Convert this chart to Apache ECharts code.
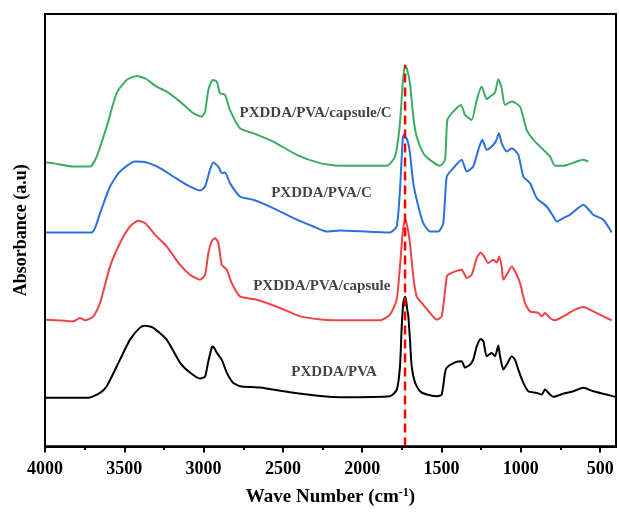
<!DOCTYPE html>
<html>
<head>
<meta charset="utf-8">
<script src="https://cdn.jsdelivr.net/npm/echarts@6/dist/echarts.min.js"></script>
<style>
  html, body { margin: 0; padding: 0; background: #fff; }
  #chart { width: 619px; height: 512px; }
</style>
</head>
<body>
<div id="chart"></div>
<script>
// FTIR spectra, stacked with vertical offsets (absorbance in arbitrary units)
const pvaWave = [4000, 3729, 3653, 3611, 3527, 3464, 3401, 3370, 3319, 3233, 3149, 3086, 3023, 2991, 2972, 2949, 2941, 2917, 2886, 2854, 2815, 2771, 2644, 2455, 2247, 2140, 1825, 1782, 1762, 1751, 1741, 1730, 1724, 1716, 1709, 1699, 1688, 1667, 1636, 1593, 1530, 1499, 1478, 1467, 1415, 1373, 1352, 1320, 1300, 1278, 1253, 1236, 1215, 1184, 1163, 1142, 1131, 1110, 1089, 1057, 1037, 1016, 984, 953, 900, 868, 848, 816, 795, 732, 669, 606, 543, 459, 406];
const pvaAbs = [0.487, 0.487, 0.537, 0.603, 0.87, 1.07, 1.19, 1.21, 1.19, 1.07, 0.84, 0.74, 0.68, 0.70, 0.84, 0.99, 1.00, 0.94, 0.87, 0.74, 0.64, 0.603, 0.59, 0.543, 0.503, 0.493, 0.503, 0.57, 0.80, 1.20, 1.44, 1.50, 1.47, 1.37, 1.30, 1.07, 0.80, 0.64, 0.553, 0.52, 0.503, 0.52, 0.74, 0.79, 0.843, 0.853, 0.79, 0.82, 0.87, 1.003, 1.077, 1.053, 0.903, 0.937, 0.903, 1.01, 0.903, 0.77, 0.82, 0.903, 0.87, 0.77, 0.637, 0.553, 0.537, 0.52, 0.57, 0.52, 0.497, 0.53, 0.553, 0.587, 0.553, 0.52, 0.497];

const capsuleWave = [4000, 3989, 3822, 3779, 3748, 3695, 3653, 3590, 3527, 3464, 3412, 3370, 3296, 3233, 3149, 3086, 3023, 2991, 2970, 2949, 2928, 2907, 2886, 2854, 2823, 2771, 2665, 2518, 2392, 2245, 2140, 1888, 1825, 1783, 1762, 1745, 1730, 1716, 1699, 1678, 1657, 1625, 1573, 1530, 1499, 1467, 1457, 1415, 1373, 1341, 1310, 1278, 1253, 1232, 1205, 1174, 1152, 1136, 1121, 1110, 1089, 1057, 1037, 1005, 974, 942, 890, 868, 848, 816, 784, 732, 658, 606, 543, 480, 427];
const capsuleAbs = [1.27, 1.27, 1.253, 1.287, 1.263, 1.303, 1.437, 1.803, 2.037, 2.203, 2.26, 2.237, 2.103, 2.003, 1.82, 1.72, 1.67, 1.72, 1.937, 2.053, 2.087, 2.037, 1.82, 1.77, 1.637, 1.503, 1.47, 1.387, 1.303, 1.27, 1.263, 1.263, 1.32, 1.47, 1.803, 2.137, 2.27, 2.203, 2.037, 1.703, 1.503, 1.437, 1.337, 1.27, 1.303, 1.703, 1.72, 1.753, 1.77, 1.687, 1.72, 1.887, 1.943, 1.903, 1.837, 1.87, 1.843, 1.903, 1.803, 1.67, 1.72, 1.803, 1.753, 1.637, 1.437, 1.353, 1.337, 1.303, 1.337, 1.287, 1.263, 1.303, 1.37, 1.397, 1.353, 1.303, 1.263];

const cWave = [4000, 3706, 3653, 3590, 3527, 3433, 3359, 3275, 3191, 3107, 3023, 2991, 2960, 2939, 2907, 2886, 2865, 2834, 2771, 2687, 2561, 2434, 2308, 2224, 2140, 1825, 1783, 1762, 1745, 1737, 1716, 1699, 1678, 1646, 1615, 1573, 1520, 1489, 1467, 1426, 1373, 1341, 1300, 1268, 1243, 1215, 1184, 1158, 1138, 1121, 1089, 1057, 1016, 984, 942, 900, 837, 795, 774, 732, 690, 606, 543, 480, 427];
const cAbs = [2.143, 2.143, 2.337, 2.603, 2.753, 2.853, 2.843, 2.787, 2.703, 2.62, 2.563, 2.603, 2.77, 2.843, 2.803, 2.737, 2.743, 2.637, 2.503, 2.47, 2.387, 2.287, 2.203, 2.153, 2.163, 2.143, 2.203, 2.57, 3.07, 3.12, 3.07, 2.937, 2.637, 2.403, 2.237, 2.153, 2.153, 2.237, 2.703, 2.787, 2.87, 2.753, 2.803, 2.97, 3.07, 2.97, 3.003, 3.053, 3.137, 3.037, 2.953, 2.987, 2.92, 2.703, 2.637, 2.487, 2.403, 2.303, 2.253, 2.287, 2.32, 2.42, 2.32, 2.27, 2.143];

const capsuleCWave = [4000, 3989, 3822, 3716, 3674, 3611, 3548, 3485, 3422, 3390, 3359, 3296, 3233, 3149, 3065, 3012, 2991, 2970, 2943, 2917, 2897, 2865, 2834, 2771, 2687, 2561, 2413, 2266, 2140, 1846, 1793, 1762, 1745, 1730, 1716, 1699, 1678, 1657, 1615, 1573, 1510, 1478, 1463, 1426, 1377, 1352, 1310, 1278, 1247, 1215, 1194, 1163, 1142, 1121, 1100, 1057, 1005, 963, 920, 858, 816, 784, 732, 690, 648, 606, 575];
const capsuleCAbs = [2.843, 2.843, 2.803, 2.803, 2.903, 3.203, 3.537, 3.67, 3.71, 3.697, 3.677, 3.603, 3.553, 3.453, 3.337, 3.303, 3.353, 3.57, 3.67, 3.653, 3.537, 3.52, 3.37, 3.187, 3.137, 3.053, 2.92, 2.837, 2.81, 2.81, 2.903, 3.237, 3.637, 3.82, 3.77, 3.637, 3.303, 3.103, 2.937, 2.87, 2.81, 2.87, 3.27, 3.353, 3.42, 3.32, 3.27, 3.47, 3.603, 3.477, 3.503, 3.543, 3.677, 3.587, 3.42, 3.453, 3.403, 3.17, 3.07, 2.97, 2.903, 2.81, 2.81, 2.83, 2.853, 2.87, 2.853];

// C=O reference band
const carbonylWave = 1730;
const carbonylTop = 3.82;

// sample names and where each one is written
const sampleNames = ['PXDDA/PVA/capsule/C', 'PXDDA/PVA/C', 'PXDDA/PVA/capsule', 'PXDDA/PVA'];
const nameWave = [2294, 2257, 2255, 2177];
const nameAbs = [3.337, 2.537, 1.61, 0.747];

// axis ranges and ticks
const waveRange = [400, 4000];
const absRange = [0, 4.33];
const majorTicks = [4000, 3500, 3000, 2500, 2000, 1500, 1000, 500];
const minorTicks = [3750, 3250, 2750, 2250, 1750, 1250, 750];

const serif = "'Times New Roman', 'Liberation Serif', serif";
const zip = (xs, ys) => xs.map((x, i) => [x, ys[i]]);
const plotBox = { left: 45, right: 3, top: 14, bottom: 65 };

function spectrum(name, wave, abs, color) {
  return {
    name: name,
    type: 'line',
    data: zip(wave, abs),
    showSymbol: false,
    symbol: 'none',
    smooth: 0.2,
    lineStyle: { color: color, width: 2 },
    itemStyle: { color: color },
    animation: false,
    z: 3
  };
}

const chart = echarts.init(document.getElementById('chart'), null, { renderer: 'canvas' });

chart.setOption({
  backgroundColor: '#fff',
  animation: false,
  grid: [
    Object.assign({ show: true, borderColor: '#000', borderWidth: 2, backgroundColor: 'rgba(0,0,0,0)' }, plotBox),
    Object.assign({}, plotBox)
  ],
  xAxis: [
    {
      gridIndex: 0,
      type: 'value', min: waveRange[0], max: waveRange[1], inverse: true, position: 'bottom',
      axisLine: { show: true, onZero: false, lineStyle: { color: '#000', width: 2 } },
      splitLine: { show: false },
      axisTick: { show: true, inside: false, length: 6, customValues: majorTicks, lineStyle: { color: '#000', width: 2 } },
      axisLabel: {
        customValues: majorTicks, margin: 14,
        formatter: v => String(v),
        color: '#000', fontFamily: serif, fontWeight: 'bold', fontSize: 18
      },
      name: '{n|Wave Number (cm}{s|-1}{n|)}',
      nameLocation: 'middle', nameGap: 40,
      nameTextStyle: {
        rich: {
          n: { fontFamily: serif, fontWeight: 'bold', fontSize: 19, color: '#000' },
          s: { fontFamily: serif, fontWeight: 'bold', fontSize: 12, color: '#000', verticalAlign: 'top', padding: [0, 0, 10, 0] }
        }
      }
    },
    {
      gridIndex: 1,
      type: 'value', min: waveRange[0], max: waveRange[1], inverse: true, position: 'bottom',
      axisLine: { show: false, onZero: false },
      splitLine: { show: false },
      axisLabel: { show: false },
      axisTick: { show: true, inside: false, length: 3, customValues: minorTicks, lineStyle: { color: '#000', width: 2 } }
    }
  ],
  yAxis: [
    {
      gridIndex: 0,
      type: 'value', min: absRange[0], max: absRange[1], position: 'left',
      axisLine: { show: true, onZero: false, lineStyle: { color: '#000', width: 2 } },
      axisTick: { show: false },
      axisLabel: { show: false },
      splitLine: { show: false },
      name: 'Absorbance (a.u)',
      nameLocation: 'middle', nameGap: 15,
      nameTextStyle: { fontFamily: serif, fontWeight: 'bold', fontSize: 18, color: '#000' }
    },
    {
      gridIndex: 1,
      type: 'value', min: absRange[0], max: absRange[1],
      show: false
    }
  ],
  series: [
    spectrum('PXDDA/PVA', pvaWave, pvaAbs, '#000000'),
    spectrum('PXDDA/PVA/capsule', capsuleWave, capsuleAbs, '#ef4343'),
    spectrum('PXDDA/PVA/C', cWave, cAbs, '#2b70dc'),
    spectrum('PXDDA/PVA/capsule/C', capsuleCWave, capsuleCAbs, '#3cac62'),
    {
      name: 'carbonyl',
      type: 'line',
      data: [[carbonylWave, 0], [carbonylWave, carbonylTop]],
      showSymbol: false, symbol: 'none',
      lineStyle: { color: '#ff0000', width: 2.5, type: [9, 5] },
      z: 5
    },
    {
      name: 'names',
      type: 'scatter',
      symbolSize: 0,
      data: sampleNames.map((s, i) => ({ value: [nameWave[i], nameAbs[i]], name: s })),
      label: {
        show: true, position: 'inside',
        formatter: p => p.name,
        fontFamily: serif, fontWeight: 'bold', fontSize: 15, color: '#111'
      },
      z: 6
    }
  ]
});

// plot frame, placed through the axes' own scales
const topLeft = chart.convertToPixel({ gridIndex: 0 }, [waveRange[1], absRange[1]]);
const bottomRight = chart.convertToPixel({ gridIndex: 0 }, [waveRange[0], absRange[0]]);
chart.setOption({
  graphic: [
    {
      type: 'rect', z: 100, silent: true,
      shape: {
        x: topLeft[0], y: topLeft[1],
        width: bottomRight[0] - topLeft[0], height: bottomRight[1] - topLeft[1]
      },
      style: { stroke: '#000', lineWidth: 2, fill: 'rgba(0,0,0,0)' }
    }
  ]
});
</script>
</body>
</html>
